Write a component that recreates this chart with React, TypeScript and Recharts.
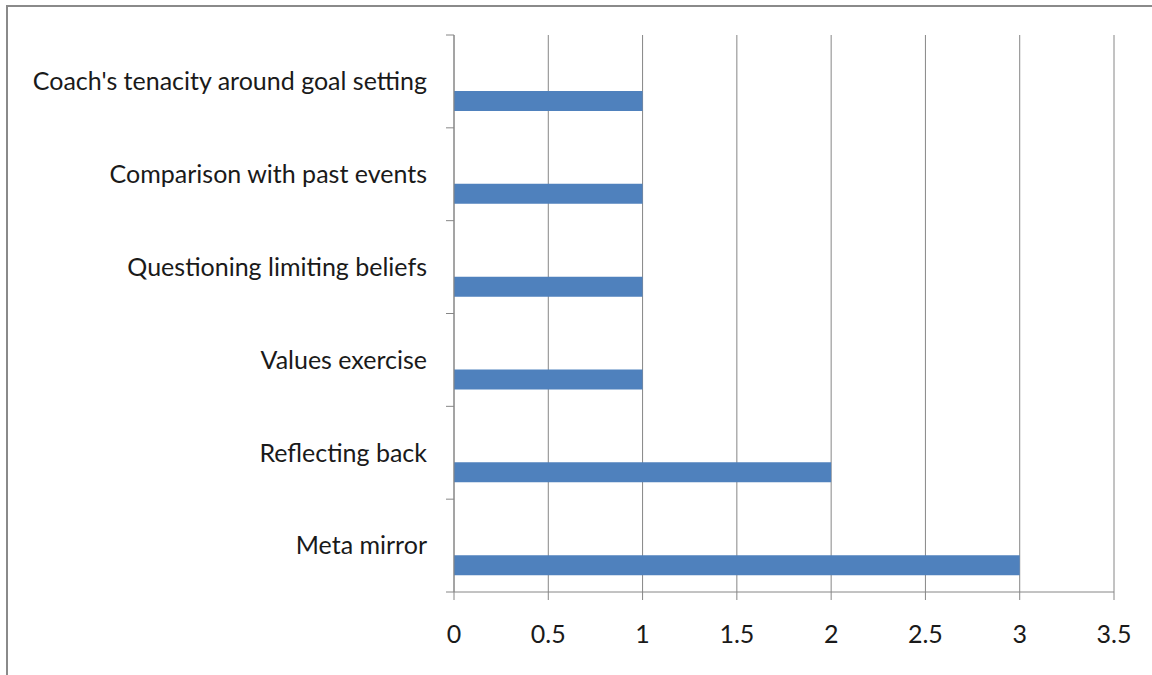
import { BarChart, Bar, XAxis, YAxis, CartesianGrid } from "recharts";

// categories listed top to bottom
const techniques = [
  "Coach's tenacity around goal setting",
  "Comparison with past events",
  "Questioning limiting beliefs",
  "Values exercise",
  "Reflecting back",
  "Meta mirror",
];
const mentions = [1, 1, 1, 1, 2, 3];
// two unused series in the source workbook, they only reserve bar slots
const blankA = [null, null, null, null, null, null];
const blankB = [null, null, null, null, null, null];
const valueTicks = [0, 0.5, 1, 1.5, 2, 2.5, 3, 3.5];

const data = techniques.map((name, i) => ({
  name,
  blankA: blankA[i],
  blankB: blankB[i],
  mentions: mentions[i],
}));

const FONT = "Lato, 'Noto Sans', sans-serif";
const AXIS = "#868686";
const TICK_SIZE = 8;
const TICK_GAP = 19;

// category label plus Excel-style tick marks on the band edges
function CategoryTick(props: any) {
  const { x, y, payload, index, visibleTicksCount } = props;
  const half = payload?.offset ?? 46.4;
  const x1 = x + TICK_GAP;
  const x2 = x1 + TICK_SIZE;
  const last = index === visibleTicksCount - 1;
  return (
    <g>
      <line x1={x1} x2={x2} y1={y - half} y2={y - half} stroke={AXIS} />
      {last && <line x1={x1} x2={x2} y1={y + half} y2={y + half} stroke={AXIS} />}
      <text
        x={x}
        y={y}
        dy="0.355em"
        textAnchor="end"
        fontSize={25}
        fill="#1a1a1a"
        fontFamily={FONT}
      >
        {payload.value}
      </text>
    </g>
  );
}

export default function App() {
  return (
    <div style={{ position: "absolute", left: 0, top: 0, width: 1152, height: 675, background: "#fff", overflow: "hidden" }}>
      {/* outer chart frame, only its top and left edges show */}
      <div
        style={{
          position: "absolute",
          left: 6,
          top: 5,
          width: 1200,
          height: 720,
          borderLeft: "2px solid #8a8a8a",
          borderTop: "2px solid #8a8a8a",
        }}
      />
      <div style={{ position: "absolute", left: 0, top: 0 }}>
        <BarChart
          width={1152}
          height={675}
          data={data}
          layout="vertical"
          margin={{ top: 35, right: 38, bottom: 0, left: 0 }}
          barSize={20}
          barGap={0}
        >
          <CartesianGrid horizontal={false} stroke={AXIS} strokeWidth={1} />
          <XAxis
            type="number"
            domain={[0, 3.5]}
            ticks={valueTicks}
            height={83}
            axisLine={{ stroke: AXIS }}
            tickLine={{ stroke: AXIS }}
            tickSize={TICK_SIZE}
            tickMargin={25}
            tick={{ fontSize: 25, fill: "#1a1a1a", fontFamily: FONT }}
            interval={0}
          />
          <YAxis
            type="category"
            dataKey="name"
            width={454}
            axisLine={{ stroke: AXIS }}
            tickLine={false}
            tickSize={TICK_SIZE}
            tickMargin={TICK_GAP}
            tick={CategoryTick}
            interval={0}
          />
          <Bar dataKey="blankA" fill="none" isAnimationActive={false} />
          <Bar dataKey="blankB" fill="none" isAnimationActive={false} />
          <Bar dataKey="mentions" fill="#4F81BD" isAnimationActive={false} />
        </BarChart>
      </div>
    </div>
  );
}
